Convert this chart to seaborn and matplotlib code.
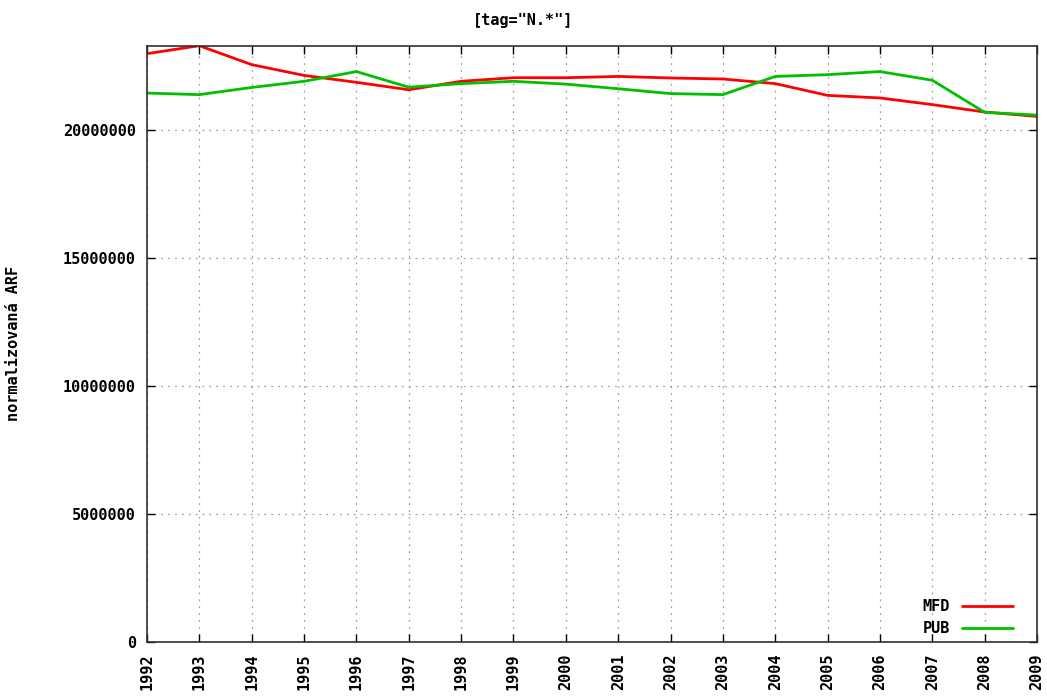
import matplotlib
matplotlib.use("Agg")
import matplotlib.pyplot as plt
import seaborn as sns
import pandas as pd
from matplotlib.ticker import FixedLocator, FuncFormatter

years = list(range(1992, 2010))
mfd = [22970000, 23280000, 22540000, 22120000, 21850000, 21560000, 21890000, 22030000, 22030000,
       22080000, 22020000, 21980000, 21800000, 21340000, 21240000, 20980000, 20690000, 20520000]
pub = [21430000, 21370000, 21650000, 21890000, 22270000, 21660000, 21800000, 21890000, 21780000,
       21600000, 21410000, 21370000, 22080000, 22150000, 22270000, 21930000, 20680000, 20570000]
series_names = ["MFD", "PUB"]
y_ticks = [0, 5000000, 10000000, 15000000, 20000000]
title_text = '[tag="N.*"]'
y_label = "normalizovaná ARF"

df = pd.DataFrame({
    "rok": years * 2,
    "hodnota": mfd + pub,
    "serie": [series_names[0]] * len(years) + [series_names[1]] * len(years),
})

sns.set_theme(style="white")
plt.rcParams["font.family"] = ["DejaVu Sans Mono", "DejaVu Sans"]
plt.rcParams["font.size"] = 10
plt.rcParams["font.weight"] = "bold"
plt.rcParams["text.color"] = "black"

fig = plt.figure(figsize=(10.47, 6.99), dpi=100)
ax = fig.add_axes([147 / 1047, 1 - 642 / 699, (1037 - 147) / 1047, (642 - 45.7) / 699])

sns.lineplot(data=df, x="rok", y="hodnota", hue="serie",
             palette={"MFD": "#ff0000", "PUB": "#00c000"},
             linewidth=2, ax=ax, legend=False)

ax.set_xlim(years[0], years[-1])
ax.set_ylim(0, max(mfd))

ax.xaxis.set_major_locator(FixedLocator(years))
ax.yaxis.set_major_locator(FixedLocator(y_ticks))
ax.yaxis.set_major_formatter(FuncFormatter(lambda v, p: f"{int(v)}"))
ax.set_xticks(years)
ax.set_xticklabels([str(y) for y in years], rotation=90, fontweight="bold")
for lbl in ax.get_yticklabels():
    lbl.set_fontweight("bold")

ax.tick_params(direction="in", length=6, width=1, color="black",
               top=True, right=True, bottom=True, left=True,
               labelsize=11, pad=8)
for lbl in ax.get_xticklabels() + ax.get_yticklabels():
    lbl.set_color("black")

ax.grid(True, linestyle=(0, (1.5, 4)), color="#a0a0a0", linewidth=0.9)
for s in ax.spines.values():
    s.set_color("#303030")
    s.set_linewidth(1.2)
    s.set_visible(True)

ax.set_xlabel("")
ax.set_ylabel(y_label, fontsize=11, labelpad=30, color="black", fontweight="bold")
fig.text(0.5, 1 - 20 / 699, title_text, ha="center", va="center", fontsize=11,
         color="black", fontweight="bold")

handles = [plt.Line2D([], [], color="#ff0000", linewidth=2),
           plt.Line2D([], [], color="#00c000", linewidth=2)]
leg = ax.legend(handles, series_names, loc="lower right", markerfirst=False, frameon=False,
                fontsize=11, handlelength=3.3, handletextpad=0.8, labelspacing=0.45,
                bbox_to_anchor=(0.988, -0.013))
for t in leg.get_texts():
    t.set_fontweight("bold")
    t.set_color("black")

fig.savefig("out.png", dpi=100)
